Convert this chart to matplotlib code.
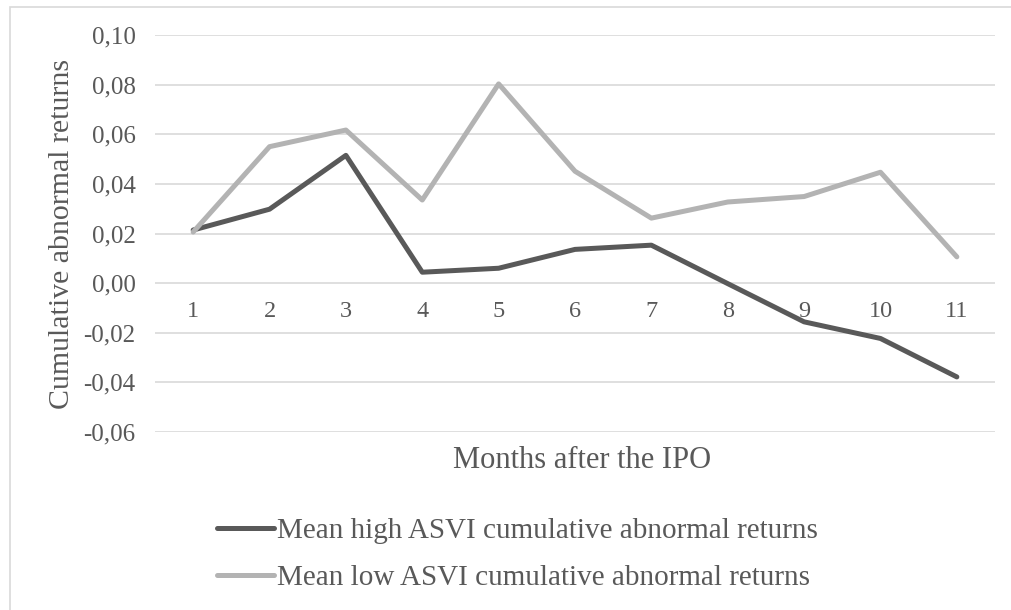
import matplotlib.pyplot as plt
from matplotlib.patches import Rectangle
from matplotlib.ticker import FuncFormatter, MultipleLocator
import matplotlib.transforms as mtransforms

plt.rcParams["font.family"] = ["Liberation Serif", "DejaVu Serif"]

months = [1, 2, 3, 4, 5, 6, 7, 8, 9, 10, 11]
high_asvi = [0.0214, 0.0298, 0.0515, 0.0044, 0.0060, 0.0136, 0.0153, -0.0002, -0.0156, -0.0223, -0.0378]
low_asvi = [0.0206, 0.0550, 0.0617, 0.0335, 0.0803, 0.0451, 0.0262, 0.0327, 0.0349, 0.0447, 0.0106]

text_col = "#595959"
grid_col = "#d9d9d9"

fig = plt.figure(figsize=(10.11, 6.10), dpi=100)
ax = fig.add_axes([0.1533, 0.2918, 0.8309, 0.6508])

# chart border (right and bottom edges fall outside the image)
fig.patches.append(Rectangle((10 / 1011, -0.1), 1.2, 1.1 - 7 / 610, transform=fig.transFigure,
                             fill=False, edgecolor=grid_col, linewidth=1.2))

ax.plot(months, high_asvi, color="#595959", linewidth=3.6, solid_capstyle="round",
        label="Mean high ASVI cumulative abnormal returns")
ax.plot(months, low_asvi, color="#b3b3b3", linewidth=3.6, solid_capstyle="round",
        label="Mean low ASVI cumulative abnormal returns")

ax.set_xlim(0.5, 11.5)
ax.set_ylim(-0.06, 0.10)
ax.yaxis.set_major_locator(MultipleLocator(0.02))
ax.yaxis.set_major_formatter(FuncFormatter(lambda v, p: f"{v:.2f}".replace(".", ",").replace("-0,00", "0,00")))
ax.grid(axis="y", color=grid_col, linewidth=1.2)
ax.set_axisbelow(True)
for s in ax.spines.values():
    s.set_visible(False)
ax.tick_params(axis="y", length=0, labelsize=18, labelcolor=text_col, pad=14)
ax.set_xticks([])

# category labels sit just below the zero line
offset = mtransforms.ScaledTranslation(0, -0.28, fig.dpi_scale_trans)
for m in months:
    ax.text(m, 0, str(m), transform=ax.transData + offset, ha="center", va="center",
            fontsize=17.5, color=text_col)

ax.set_ylabel("Cumulative abnormal returns", fontsize=21.5, color=text_col, labelpad=6)
fig.text(582 / 1011, 1 - 460 / 610, "Months after the IPO", ha="center", va="center",
         fontsize=22, color=text_col)

fig.legend(loc="upper left", bbox_to_anchor=(217 / 1011, 1 - 518 / 610), frameon=False,
           fontsize=21, labelcolor=text_col, handlelength=1.95, handletextpad=0.1,
           labelspacing=0.7, borderaxespad=0, borderpad=0)

fig.savefig("out.png", dpi=100)
